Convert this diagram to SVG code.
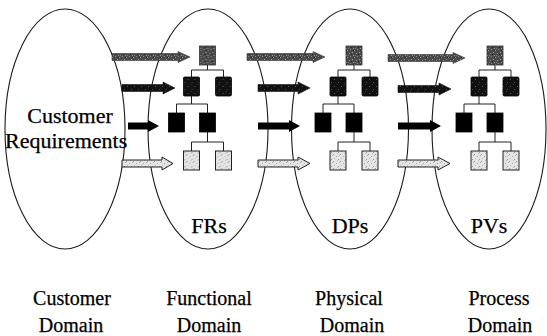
<svg xmlns="http://www.w3.org/2000/svg" width="547" height="336" viewBox="0 0 547 336">
  <defs>
    <!-- stipple textures for the shaded boxes and arrows -->
    <pattern id="stipDark" width="7" height="7" patternUnits="userSpaceOnUse">
      <rect width="7" height="7" fill="#4a4a4a"/>
      <rect x="0" y="1" width="1" height="1" fill="#9a9a9a"/>
      <rect x="3" y="0" width="1" height="1" fill="#888"/>
      <rect x="5" y="3" width="1" height="1" fill="#a0a0a0"/>
      <rect x="2" y="4" width="1" height="1" fill="#8a8a8a"/>
      <rect x="6" y="6" width="1" height="1" fill="#999"/>
      <rect x="1" y="6" width="1" height="1" fill="#777"/>
      <rect x="4" y="5" width="1" height="1" fill="#222"/>
      <rect x="6" y="1" width="1" height="1" fill="#222"/>
    </pattern>
    <pattern id="stipBlack" width="7" height="7" patternUnits="userSpaceOnUse">
      <rect width="7" height="7" fill="#111"/>
      <rect x="1" y="2" width="1" height="1" fill="#555"/>
      <rect x="5" y="5" width="1" height="1" fill="#4a4a4a"/>
      <rect x="4" y="0" width="1" height="1" fill="#3a3a3a"/>
    </pattern>
    <pattern id="stipLight" width="7" height="7" patternUnits="userSpaceOnUse">
      <rect width="7" height="7" fill="#e4e4e4"/>
      <rect x="0" y="0" width="1" height="1" fill="#999"/>
      <rect x="3" y="2" width="1" height="1" fill="#aaa"/>
      <rect x="5" y="5" width="1" height="1" fill="#999"/>
      <rect x="1" y="4" width="1" height="1" fill="#bbb"/>
      <rect x="6" y="1" width="1" height="1" fill="#b0b0b0"/>
      <rect x="4" y="6" width="1" height="1" fill="#bbb"/>
    </pattern>
    <!-- hierarchy tree drawn around x = 0 -->
    <g id="tree">
      <g class="link">
        <path d="M0 65V70M-16 70H16M-16 70V77M16 70V77"/>
        <path d="M-16 96V104M-31 104H0M-31 104V113M0 104V113"/>
        <path d="M0 132V142M-16 142H16M-16 142V151M16 142V151"/>
      </g>
      <rect class="b-top" x="-8" y="46" width="16" height="19"/>
      <rect class="b-mid" x="-24" y="77" width="16" height="19" rx="1"/>
      <rect class="b-mid" x="8" y="77" width="16" height="19" rx="1.5"/>
      <rect class="b-low" x="-39" y="113" width="16" height="19"/>
      <rect class="b-low" x="-8" y="113" width="16" height="19"/>
      <rect class="b-leaf" x="-24" y="151" width="16" height="19"/>
      <rect class="b-leaf" x="8" y="151" width="16" height="19"/>
    </g>
  </defs>
  <style>
    .domain { fill: none; stroke: #1a1a1a; stroke-width: 1.1; }
    .link path { fill: none; stroke: #222; stroke-width: 1; }
    .b-top { fill: url(#stipDark); stroke: #333; stroke-width: 0.8; }
    .b-mid { fill: url(#stipBlack); stroke: #000; stroke-width: 0.8; }
    .b-low { fill: #000; stroke: #000; stroke-width: 0.8; }
    .b-leaf { fill: url(#stipLight); stroke: #222; stroke-width: 1; }
    .a1 { fill: url(#stipDark); stroke: #333; stroke-width: 0.6; }
    .a2 { fill: url(#stipBlack); stroke: #111; stroke-width: 0.6; }
    .a3 { fill: #000; }
    .a4 { fill: url(#stipLight); stroke: #222; stroke-width: 1; }
    .lbl { font-family: "Liberation Serif", "Times New Roman", serif; fill: #000; stroke: #000; stroke-width: 0.25; }
    .in { font-size: 22px; }
    .cap { font-size: 20px; text-anchor: middle; }
  </style>

  <rect width="547" height="336" fill="#fff"/>

  <!-- customer domain -->
  <g id="customer">
    <ellipse class="domain" cx="65" cy="129" rx="60" ry="120"/>
    <text class="lbl in" x="70" y="123" text-anchor="middle">Customer</text>
    <text class="lbl in" x="5" y="148">Requirements</text>
  </g>

  <!-- functional domain -->
  <g id="functional">
    <ellipse class="domain" cx="208" cy="129" rx="60" ry="120"/>
    <use href="#tree" x="207.5"/>
    <text class="lbl in" x="209" y="233" text-anchor="middle">FRs</text>
  </g>

  <!-- physical domain -->
  <g id="physical">
    <ellipse class="domain" cx="350" cy="129" rx="58.5" ry="120"/>
    <use href="#tree" x="354"/>
    <text class="lbl in" x="350" y="233" text-anchor="middle">DPs</text>
  </g>

  <!-- process domain -->
  <g id="process">
    <ellipse class="domain" cx="489" cy="129" rx="57" ry="120"/>
    <use href="#tree" x="495"/>
    <text class="lbl in" x="489" y="233" text-anchor="middle">PVs</text>
  </g>

  <!-- mapping arrows between domains -->
  <g id="connectors">
    <path class="a1" d="M112 53.5H178V51.5L190 57L178 62.5V60.5H112Z"/>
    <path class="a2" d="M122 84.5H163V82L175 88L163 94V91.5H122Z"/>
    <path class="a3" d="M128 122.5H148V120L159 126L148 132V129.5H128Z"/>
    <path class="a4" d="M122 160H162V157L173 163.5L162 170V167H122Z"/>

    <path class="a1" d="M247 53.5H313V51.5L325 57L313 62.5V60.5H247Z"/>
    <path class="a2" d="M258 84.5H298V82L310 88L298 94V91.5H258Z"/>
    <path class="a3" d="M258 122.5H289V120L300 126L289 132V129.5H258Z"/>
    <path class="a4" d="M258 160H298V157L310 163.5L298 170V167H258Z"/>

    <path class="a1" d="M388 54.5H453V52.5L465 58L453 63.5V61.5H388Z"/>
    <path class="a2" d="M398 85.5H439V83L451 89L439 95V92.5H398Z"/>
    <path class="a3" d="M398 122.5H430V120L441 126L430 132V129.5H398Z"/>
    <path class="a4" d="M398 160H438V157L450 163.5L438 170V167H398Z"/>
  </g>

  <!-- domain captions -->
  <g id="captions">
    <text class="lbl cap" x="72" y="305">Customer</text>
    <text class="lbl cap" x="71" y="332">Domain</text>
    <text class="lbl cap" x="209" y="305">Functional</text>
    <text class="lbl cap" x="209" y="332">Domain</text>
    <text class="lbl cap" x="349" y="305">Physical</text>
    <text class="lbl cap" x="352" y="332">Domain</text>
    <text class="lbl cap" x="499" y="305">Process</text>
    <text class="lbl cap" x="500" y="332">Domain</text>
  </g>
</svg>
